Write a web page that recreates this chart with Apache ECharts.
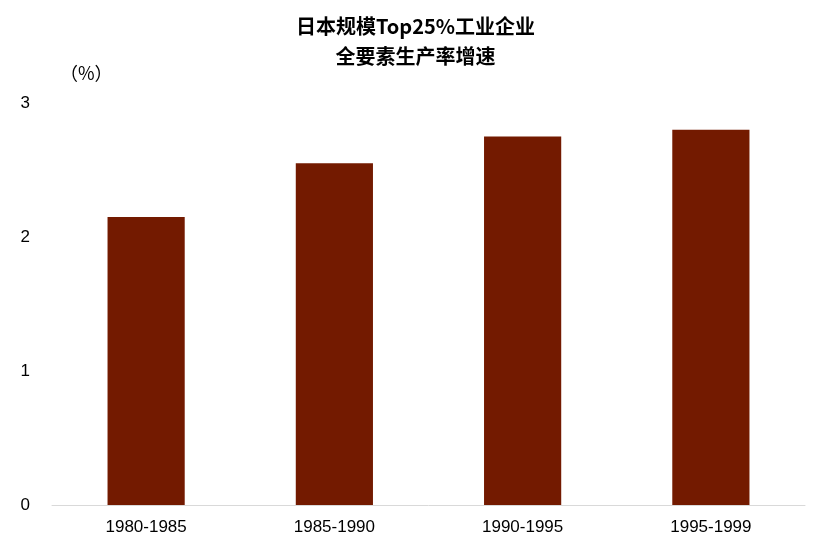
<!DOCTYPE html><html><head><meta charset="utf-8"><script src="https://cdn.jsdelivr.net/npm/echarts@6/dist/echarts.min.js"></script></head><body style="margin:0"><div id="c" style="width:831px;height:560px"></div><script>
const categories=['1980-1985','1985-1990','1990-1995','1995-1999'];
const values=[2.15,2.55,2.75,2.80];
const yTicks=[0,1,2,3];
const ch=echarts.init(document.getElementById('c'));
ch.setOption({
title:{text:'日本规模Top25%工业企业\n全要素生产率增速',left:'center',top:6,textStyle:{fontSize:20,fontWeight:'bold',color:'#000',lineHeight:30,fontFamily:'Noto Sans CJK SC'}},
graphic:[{type:'text',left:60,top:64,style:{text:'（%）',fontSize:18,fill:'#000',fontFamily:'Noto Sans CJK SC'}}],
grid:{left:52,right:26,top:103,bottom:55},
xAxis:{type:'category',data:categories,axisTick:{show:false},axisLine:{lineStyle:{color:'#d9d9d9'}},axisLabel:{fontSize:17,color:'#000',margin:14,fontFamily:'Liberation Sans'}},
yAxis:{type:'value',min:0,max:3,interval:1,splitLine:{show:false},axisLabel:{fontSize:17,color:'#000',margin:22,fontFamily:'Liberation Sans'}},
series:[{type:'bar',data:values,barWidth:'41%',itemStyle:{color:'#731a00'}}]
});
</script></body></html>
